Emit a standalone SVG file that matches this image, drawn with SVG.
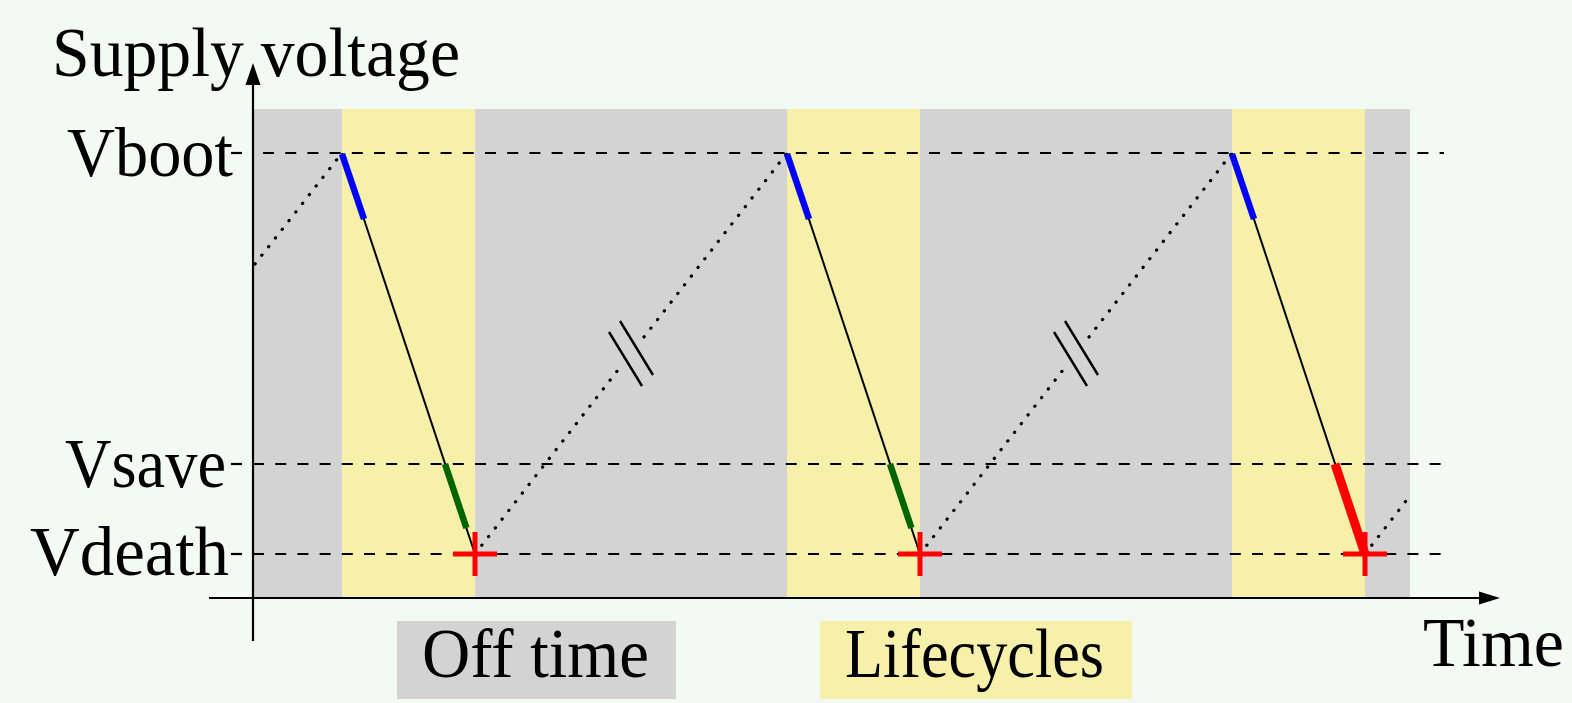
<svg xmlns="http://www.w3.org/2000/svg" width="1572" height="703" viewBox="0 0 1572 703">
<style>
text{font-family:"Liberation Serif","Times New Roman",serif;font-size:69px;fill:#000}
.dash{stroke:#000;stroke-width:2.2;stroke-dasharray:11 11.2;fill:none}
.tick{stroke:#000;stroke-width:2.2}
.axis{stroke:#000;stroke-width:2.2;fill:none}
.dot{stroke:#000;stroke-width:3.2;stroke-linecap:round;stroke-dasharray:0.3 10.7;fill:none}
.brk{stroke:#000;stroke-width:2.4}
.disch{stroke:#000;stroke-width:2;fill:none}
.blue{stroke:#0000ff;stroke-width:6.5}
.green{stroke:#006400;stroke-width:6.5}
.redl{stroke:#ff0000;stroke-width:9}
.cross{stroke:#ff0000;stroke-width:5}
.off{fill:#d3d3d3}
.life{fill:#f6f0aa}
</style>
<rect width="1572" height="703" fill="#f3f9f3"/>
<g id="regions">
<rect class="off" x="254" y="109" width="1156" height="489"/>
<rect class="life" x="342" y="109" width="133" height="489"/>
<rect class="life" x="787" y="109" width="133" height="489"/>
<rect class="life" x="1232" y="109" width="133" height="489"/>
</g>
<g id="levels">
<line class="tick" x1="231" y1="153" x2="242" y2="153"/>
<line class="tick" x1="231" y1="464" x2="242" y2="464"/>
<line class="tick" x1="231" y1="554" x2="242" y2="554"/>
<line class="dash" x1="263" y1="153" x2="1444" y2="153"/>
<line class="dash" x1="253" y1="464" x2="1444" y2="464"/>
<line class="dash" x1="253" y1="554" x2="1444" y2="554"/>
</g>
<g id="axes">
<line class="axis" x1="253" y1="641" x2="253" y2="83"/>
<polygon points="253,63 245.5,85 260.5,85" fill="#000"/>
<line class="axis" x1="209" y1="598" x2="1481" y2="598"/>
<polygon points="1500,598 1479,591.5 1479,604.5" fill="#000"/>
</g>
<g id="connectors">
<line class="dot" x1="255" y1="264" x2="342" y2="153"/>
<line class="dot" x1="475" y1="554" x2="618" y2="370"/>
<line class="dot" x1="644" y1="337" x2="787" y2="153"/>
<line class="brk" x1="609" y1="332" x2="642" y2="386"/>
<line class="brk" x1="620" y1="321" x2="653" y2="375"/>
<line class="dot" x1="920" y1="554" x2="1063" y2="370"/>
<line class="dot" x1="1089" y1="337" x2="1232" y2="153"/>
<line class="brk" x1="1054" y1="332" x2="1087" y2="386"/>
<line class="brk" x1="1065" y1="321" x2="1098" y2="375"/>
<line class="dot" x1="1365" y1="554" x2="1409" y2="497"/>
</g>
<g id="cycle1">
<line class="disch" x1="342" y1="153" x2="475" y2="554"/>
<line class="blue" x1="342" y1="154" x2="364" y2="219"/>
<line class="green" x1="445" y1="464" x2="466.4" y2="528"/>
<line class="cross" x1="453" y1="554" x2="497" y2="554"/>
<line class="cross" x1="475" y1="532" x2="475" y2="576"/>
</g>
<g id="cycle2">
<line class="disch" x1="787" y1="153" x2="920" y2="554"/>
<line class="blue" x1="787" y1="154" x2="809" y2="219"/>
<line class="green" x1="890" y1="464" x2="911.4" y2="528"/>
<line class="cross" x1="898" y1="554" x2="942" y2="554"/>
<line class="cross" x1="920" y1="532" x2="920" y2="576"/>
</g>
<g id="cycle3">
<line class="disch" x1="1232" y1="153" x2="1365" y2="554"/>
<line class="blue" x1="1232" y1="154" x2="1254" y2="219"/>
<line class="redl" x1="1335" y1="464" x2="1365" y2="554"/>
<line class="cross" x1="1343" y1="554" x2="1387" y2="554"/>
<line class="cross" x1="1365" y1="532" x2="1365" y2="576"/>
</g>
<g id="labels">
<text x="52" y="76" textLength="408" lengthAdjust="spacingAndGlyphs">Supply voltage</text>
<text x="67" y="176" textLength="166" lengthAdjust="spacingAndGlyphs">Vboot</text>
<text x="65" y="487" textLength="161" lengthAdjust="spacingAndGlyphs">Vsave</text>
<text x="30" y="575" textLength="199" lengthAdjust="spacingAndGlyphs">Vdeath</text>
<text x="1423" y="666" textLength="141" lengthAdjust="spacingAndGlyphs">Time</text>
</g>
<g id="legend-off">
<rect class="off" x="397" y="621" width="279" height="78"/>
<text x="422" y="677" textLength="227" lengthAdjust="spacingAndGlyphs">Off time</text>
</g>
<g id="legend-life">
<rect class="life" x="820" y="621" width="312" height="78"/>
<text x="845" y="677" textLength="259" lengthAdjust="spacingAndGlyphs">Lifecycles</text>
</g>
</svg>
